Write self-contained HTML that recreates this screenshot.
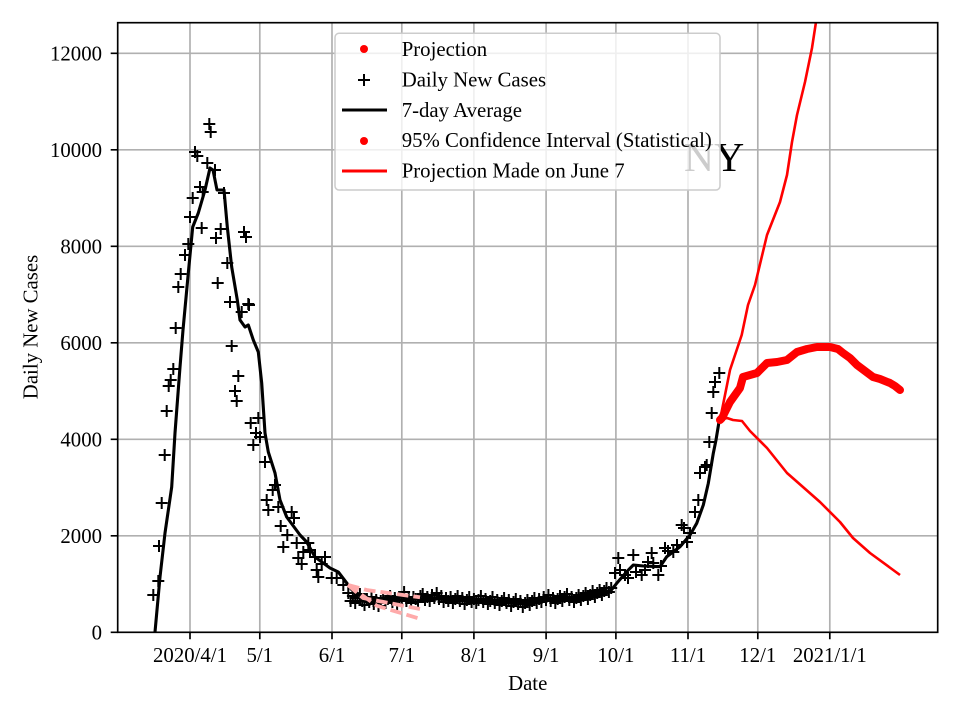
<!DOCTYPE html>
<html><head><meta charset="utf-8"><style>
html,body{margin:0;padding:0;background:#fff;}
svg{display:block;}
text{font-family:"Liberation Serif","Times New Roman",serif;fill:#000;}
</style></head><body>
<svg width="960" height="720" viewBox="0 0 960 720" xmlns="http://www.w3.org/2000/svg">
<defs>
<marker id="pl" markerWidth="14" markerHeight="14" refX="7" refY="7" markerUnits="userSpaceOnUse" overflow="visible">
<path d="M1 7H13M7 1V13" stroke="#000" stroke-width="2" fill="none"/>
</marker>
<clipPath id="ax"><rect x="117.7" y="22.7" width="820" height="609.6"/></clipPath>
</defs>
<rect width="960" height="720" fill="#fff"/>
<!-- grid -->
<g stroke="#b0b0b0" stroke-width="1.67">
<path d="M190 22.7V632.3M259.8 22.7V632.3M332 22.7V632.3M401.8 22.7V632.3M473.9 22.7V632.3M546.1 22.7V632.3M615.9 22.7V632.3M688 22.7V632.3M757.8 22.7V632.3M829.8 22.7V632.3"/>
<path d="M117.7 535.8H937.7M117.7 439.3H937.7M117.7 342.8H937.7M117.7 246.3H937.7M117.7 149.8H937.7M117.7 53.3H937.7"/>
</g>
<g clip-path="url(#ax)">
<!-- 7-day avg -->
<path fill="none" stroke="#000" stroke-width="3.1" stroke-linejoin="round" d="M155 632L160 577L165 533L171.7 487L175 433L180 367L183 330L188.3 273L192.7 227L198.3 213L205 190L210 168L213 170L217 190L224 190L227.3 227L231.7 267L237.3 300L240 320L245 327L248.3 325L253.3 340L258.3 352L261.7 383L265 433L268.3 452L275 473L280 500L286.7 517L300 535L306.7 542L315 557L330 568L338.3 572L346.7 583L352 590L360 595L370 598L380 600L400 600L420 599L440 599L460 600L480 601L500 602L520 603L540 601L560 599L580 598L600 595L610 591.7L616.7 583.3L626.7 571.7L633.3 565L643.3 566L660 566.7L666.7 556.7L680 546.7L690 535L696.7 523.3L703.3 505L708.3 483.3L713.3 453.3L716 440L719.3 420"/>
<!-- crosses -->
<path fill="none" stroke="none" marker-start="url(#pl)" marker-mid="url(#pl)" marker-end="url(#pl)" d="M153.3 595L158.3 581L159 546L161.7 503L164.7 455L166.7 411L168.7 386L170.7 380L173.3 369L175.7 328L178.3 287L180.7 274L185 255L188.3 244L190 217L192.7 198L195 152L197.3 156L200 187L202.7 192L201.7 228L207.3 163L209.3 124L210.7 132L215 170L216 238L217.7 283L220.7 229L224 193L227.3 263L230 302L231.7 346L235 391L236.7 401L238.3 376L241.7 312L244 232L246 237L248.3 304L249 305L250.7 423L253.3 445L256 433L258.3 418L260 437L265 462L266.7 500L268.3 510L272.7 490L275 485L278.3 507L280.7 526L283.3 547L287.3 535L291.7 512L294 518L296.7 543L298.3 558L301.7 564L303.3 552L308.3 543L310 550L315 557L316.7 570L318.3 577L321.7 564L325 557L331.7 578L336.7 578L343.3 585L348.3 593L350.6 601L352.9 596L355.2 603L357.5 598L359.9 594L362.2 601L364.5 605L366.9 599L369.2 602L371.5 597L373.8 604L376.2 600L378.5 606L380.8 601L383.1 598L385.5 603L387.8 599L390.1 596L392.4 602L394.8 598L397.1 604L399.4 600L401.8 597L404.1 592L406.4 601L408.7 598L411.1 603L413.4 597L415.7 599L418 602L420.4 596L422.7 594L425 600L427.3 597L429.7 601L432 595L434.3 598L436.7 593L439 599L441.3 596L443.6 602L446 598L448.3 601L450.6 597L452.9 603L455.3 599L457.6 596L459.9 601L462.3 598L464.6 604L466.9 600L469.2 597L471.6 602L473.9 599L476.2 603L478.5 600L480.9 596L483.2 602L485.5 599L487.9 604L490.2 601L492.5 597L494.8 603L497.2 600L499.5 605L501.8 601L504.1 598L506.5 603L508.8 600L511.1 606L513.5 602L515.8 599L518.1 604L520.4 601L522.8 607L525.1 603L527.4 600L529.7 605L532.1 601L534.4 598L536.7 603L539.1 599L541.4 602L543.7 597L546 600L548.4 595L550.7 601L553 598L555.3 603L557.7 599L560 596L562.3 601L564.6 597L567 594L569.3 600L571.6 597L574 602L576.3 598L578.6 595L580.9 600L583.3 596L585.6 593L587.9 599L590.2 595L592.6 591L594.9 597L597.2 593L599.6 590L601.9 595L604.2 591L606.5 588L608.9 592L611.2 588L615 573L618.3 558L620 570L625 575L628 578L633.3 555L636 572L641.7 575L645 570L648 562L651.7 553L653.3 563L658.3 575L661 566L665 548L668 551L673.3 552L677 545L681.7 525L684 528L687 542L690 533L695 512L698.3 500L700 473L705 467L706.7 465L709.3 442L711.7 413L713.3 392L715 382L719.3 373"/>
<!-- pink dashed earlier projections (on top of crosses) -->
<g stroke="#ffaaaa" stroke-width="3.8" fill="none" stroke-dasharray="11.6 5">
<path d="M348 585L366.7 590L420 597.3"/>
<path d="M348 585L363 598L420 609"/>
<path d="M348 585L376.7 605.7L418.3 618.3"/>
</g>
<!-- CI lines -->
<g fill="none" stroke="#ff0000" stroke-width="2.6" stroke-linejoin="round">
<path d="M720 420L727 418L733 420L742 421L750 431L767 448L787 473L795 480L820 502L840 522L853 538L870 553L900 575"/>
<path d="M720 420L730 370L741.7 335L748 305L755 285L767 235L780 202L787 175L792 142L797 115L805 82L812 48L816 22L818 10"/>
</g>
<!-- projection dots -->
<path fill="none" stroke="#ff0000" stroke-width="8" stroke-linecap="round" stroke-linejoin="round" d="M720 420L722 418L730 402L740 388L743 377L750 375L757 373L767 363L777 362L787 360L797 352L807 349L817 347L830 347L838 349L843 353L850 358L857 365L865 371L873 377L880 379L890 383L895 386L900 390"/>
</g>
<!-- NY label -->
<text x="684" y="171" font-size="41.7">NY</text>
<!-- legend -->
<rect x="335" y="33.3" width="385" height="156.7" rx="4" ry="4" fill="#fff" fill-opacity="0.8" stroke="#cccccc" stroke-width="1.5"/>
<circle cx="364" cy="49" r="4" fill="#ff0000"/>
<path d="M358 80H370M364 74V86" stroke="#000" stroke-width="2"/>
<path d="M342 110H387" stroke="#000" stroke-width="3.1"/>
<circle cx="364" cy="141" r="4" fill="#ff0000"/>
<path d="M342 171H387" stroke="#ff0000" stroke-width="3.1"/>
<g font-size="20.8">
<text x="401.7" y="56">Projection</text>
<text x="401.7" y="86.4">Daily New Cases</text>
<text x="401.7" y="116.8">7-day Average</text>
<text x="401.7" y="147.2">95% Confidence Interval (Statistical)</text>
<text x="401.7" y="177.6">Projection Made on June 7</text>
</g>
<!-- spines -->
<rect x="117.7" y="22.7" width="820" height="609.6" fill="none" stroke="#000" stroke-width="1.67"/>
<!-- ticks -->
<g stroke="#000" stroke-width="1.67">
<path d="M190 632.3v7M259.8 632.3v7M332 632.3v7M401.8 632.3v7M473.9 632.3v7M546.1 632.3v7M615.9 632.3v7M688 632.3v7M757.8 632.3v7M829.8 632.3v7"/>
<path d="M117.7 632.3h-7M117.7 535.8h-7M117.7 439.3h-7M117.7 342.8h-7M117.7 246.3h-7M117.7 149.8h-7M117.7 53.3h-7"/>
</g>
<g font-size="20.8" text-anchor="middle">
<text x="190" y="662">2020/4/1</text>
<text x="259.8" y="662">5/1</text>
<text x="332" y="662">6/1</text>
<text x="401.8" y="662">7/1</text>
<text x="473.9" y="662">8/1</text>
<text x="546.1" y="662">9/1</text>
<text x="615.9" y="662">10/1</text>
<text x="688" y="662">11/1</text>
<text x="757.8" y="662">12/1</text>
<text x="829.8" y="662">2021/1/1</text>
<text x="527.7" y="690">Date</text>
</g>
<g font-size="20.8" text-anchor="end">
<text x="102" y="639.3">0</text>
<text x="102" y="542.8">2000</text>
<text x="102" y="446.3">4000</text>
<text x="102" y="349.8">6000</text>
<text x="102" y="253.3">8000</text>
<text x="102" y="156.8">10000</text>
<text x="102" y="60.3">12000</text>
</g>
<text font-size="20.8" text-anchor="middle" transform="translate(37.3,327) rotate(-90)">Daily New Cases</text>
</svg>
</body></html>
